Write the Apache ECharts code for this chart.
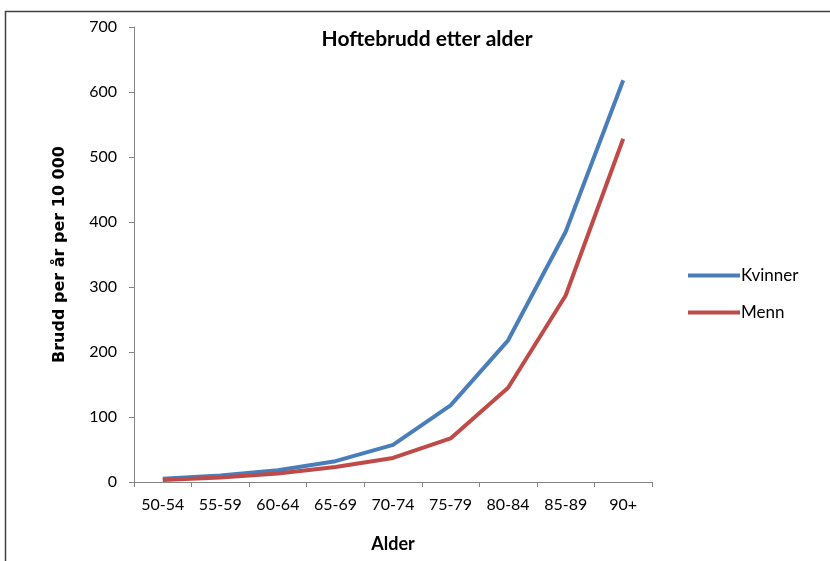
<!DOCTYPE html>
<html>
<head>
<meta charset="utf-8">
<script src="https://cdn.jsdelivr.net/npm/echarts@6/dist/echarts.min.js"></script>
<style>
html,body{margin:0;padding:0;background:#fff;}
#c{width:830px;height:561px;}
</style>
</head>
<body>
<div id="c"></div>
<script>
var categories = ['50-54','55-59','60-64','65-69','70-74','75-79','80-84','85-89','90+'];
var kvinner = [5, 10, 18, 32, 57, 118, 218, 385, 618];
var menn = [3, 7, 13, 23, 37, 67, 145, 287, 528];
var seriesNames = ['Kvinner', 'Menn'];

var chart = echarts.init(document.getElementById('c'), null, {renderer: 'canvas'});
var labelFont = 'Lato, "Open Sans", sans-serif';
chart.setOption({
  animation: false,
  backgroundColor: '#fff',
  title: {
    text: 'Hoftebrudd etter alder',
    left: 422, top: 24, textAlign: 'center',
    textStyle: {fontFamily: labelFont, fontWeight: 'bold', fontSize: 21, color: '#000'}
  },
  graphic: [{
    type: 'rect', shape: {x: 5.5, y: 11.5, width: 900, height: 700},
    style: {fill: 'none', stroke: '#404040', lineWidth: 1.5}, silent: true
  }],
  legend: {
    orient: 'vertical', left: 683, top: 262, itemGap: 20,
    itemWidth: 52, itemHeight: 4,
    icon: 'rect',
    textStyle: {fontFamily: labelFont, fontSize: 17, color: '#000', padding: [0,0,0,-4]},
    data: seriesNames
  },
  grid: {left: 134, right: 178, top: 27, bottom: 79},
  xAxis: {
    type: 'category', data: categories, boundaryGap: true,
    axisLine: {lineStyle: {color: '#868686', width: 1}},
    axisTick: {show: true, length: 5, alignWithLabel: false, lineStyle: {color: '#868686'}},
    axisLabel: {fontFamily: labelFont, fontSize: 16, color: '#000', margin: 15, interval: 0},
    name: 'Alder', nameLocation: 'middle', nameGap: 53,
    nameTextStyle: {fontFamily: labelFont, fontWeight: 'bold', fontSize: 18, color: '#000'}
  },
  yAxis: {
    type: 'value', min: 0, max: 700, interval: 100,
    axisLine: {show: true, lineStyle: {color: '#868686', width: 1}},
    axisTick: {show: true, length: 5, lineStyle: {color: '#868686'}},
    splitLine: {show: false},
    axisLabel: {fontFamily: labelFont, fontSize: 16, color: '#000', margin: 17},
    name: 'Brudd per år per 10 000', nameLocation: 'middle', nameGap: 66, nameRotate: 90,
    nameTextStyle: {fontFamily: '"DejaVu Sans", Verdana, sans-serif', fontWeight: 'bold', fontSize: 16, color: '#000'}
  },
  series: [
    {name: seriesNames[0], type: 'line', data: kvinner, showSymbol: false, symbol: 'none',
     lineStyle: {color: '#4A7EBB', width: 4}, itemStyle: {color: '#4A7EBB'}},
    {name: seriesNames[1], type: 'line', data: menn, showSymbol: false, symbol: 'none',
     lineStyle: {color: '#BE4B48', width: 4}, itemStyle: {color: '#BE4B48'}}
  ]
});
</script>
</body>
</html>
